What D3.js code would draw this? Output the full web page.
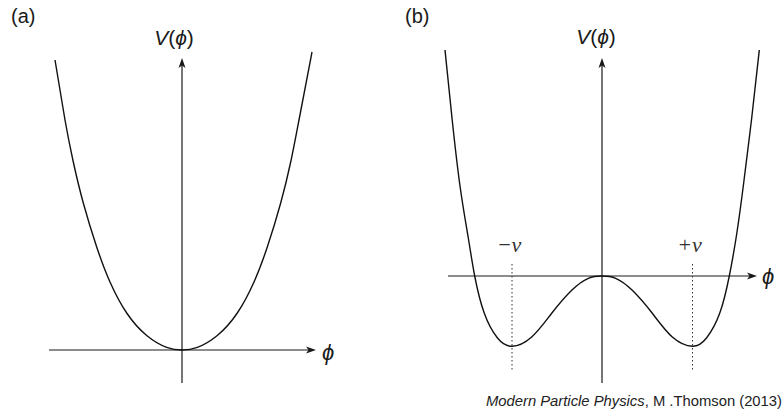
<!DOCTYPE html>
<html>
<head>
<meta charset="utf-8">
<script src="https://cdn.jsdelivr.net/npm/d3@7"></script>
<style>
  body { margin: 0; background: #fff; }
  svg text { font-family: "Liberation Sans", Arial, sans-serif; fill: #1a1a1a; }
</style>
</head>
<body>
<div id="chart"></div>
<script>
// Curve samples (phi, V), arbitrary units
const phiA = [-1.27, -1.17, -1.087, -0.987, -0.853, -0.72, -0.553, -0.353, -0.153, 0,
              0.153, 0.353, 0.553, 0.72, 0.853, 0.987, 1.087, 1.17, 1.3];
const potA = [2.90, 2.30, 1.88, 1.47, 1.03, 0.68, 0.37, 0.145, 0.026, 0,
              0.026, 0.145, 0.37, 0.68, 1.03, 1.47, 1.88, 2.30, 2.98];

const phiB = [-1.57, -1.50, -1.42, -1.337, -1.273, -1.177, -1.045, -0.9, -0.703, -0.503, -0.303, -0.137, 0,
              0.137, 0.303, 0.503, 0.703, 0.905, 1.045, 1.177, 1.273, 1.347, 1.413, 1.497, 1.573];
const potB = [2.26, 1.58, 0.90, 0.38, 0, -0.373, -0.62, -0.703, -0.61, -0.373, -0.143, -0.023, 0,
              -0.023, -0.143, -0.373, -0.61, -0.703, -0.62, -0.373, 0, 0.42, 0.90, 1.58, 2.26];

// vacuum expectation values marked in (b)
const vevs = [-0.9, 0.905];
const vevLabels = ["\u2212v", "+v"];

const panelLabels = ["(a)", "(b)"];

const W = 784, H = 415;
const svg = d3.select("#chart").append("svg")
    .attr("width", W)
    .attr("height", H);

// one unit = 100px in both panels
const panels = [
  { label: panelLabels[0], lx: 11, phi: phiA, pot: potA,
    x: d3.scaleLinear().domain([-1.33, 1.34]).range([49, 316]),
    y: d3.scaleLinear().domain([-0.33, 2.92]).range([383, 58]),
    phiLabel: [322, 360], vLabel: [174, 45] },
  { label: panelLabels[1], lx: 405, phi: phiB, pot: potB,
    x: d3.scaleLinear().domain([-1.54, 1.55]).range([448, 757]),
    y: d3.scaleLinear().domain([-1.07, 2.18]).range([383, 58]),
    phiLabel: [762, 284], vLabel: [596, 44] }
];

function arrow(g, x, y, dir) {
  // small filled arrowhead, dir "right" or "up"
  const L = 10, w = 3.5;
  const p = dir === "right"
    ? `M${x},${y}L${x - L},${y - w}L${x - L + 2.5},${y}L${x - L},${y + w}Z`
    : `M${x},${y}L${x - w},${y + L}L${x},${y + L - 2.5}L${x + w},${y + L}Z`;
  g.append("path").attr("d", p).attr("fill", "#1a1a1a");
}

panels.forEach((p, i) => {
  const g = svg.append("g");
  const [x0, x1] = p.x.range();
  const [yb, yt] = p.y.range();
  const cx = p.x(0), cy = p.y(0);

  // axes
  g.append("line")
      .attr("x1", x0).attr("x2", x1 - 4)
      .attr("y1", cy).attr("y2", cy)
      .attr("stroke", "#1a1a1a").attr("stroke-width", 1.2);
  arrow(g, x1, cy, "right");
  g.append("line")
      .attr("x1", cx).attr("x2", cx)
      .attr("y1", yb).attr("y2", yt + 4)
      .attr("stroke", "#1a1a1a").attr("stroke-width", 1.2);
  arrow(g, cx, yt, "up");

  // dotted vev markers (panel b only)
  if (i === 1) {
    vevs.forEach((v, k) => {
      g.append("line")
          .attr("x1", p.x(v)).attr("x2", p.x(v))
          .attr("y1", p.y(0.12)).attr("y2", p.y(-0.94))
          .attr("stroke", "#333").attr("stroke-width", 1)
          .attr("stroke-dasharray", "1.5,2.5");
      g.append("text")
          .attr("x", p.x(v) - 3).attr("y", p.y(0.24))
          .attr("text-anchor", "middle")
          .style("font-family", "'Liberation Serif', 'DejaVu Serif', serif")
          .style("font-style", "italic")
          .style("font-size", "22px")
          .style("fill", "#333")
          .text(vevLabels[k]);
    });
  }

  // potential curve
  const pts = p.phi.map((d, k) => [d, p.pot[k]]);
  g.append("path")
      .datum(pts)
      .attr("fill", "none")
      .attr("stroke", "#111")
      .attr("stroke-width", 1.4)
      .attr("d", d3.line()
          .x(d => p.x(d[0]))
          .y(d => p.y(d[1]))
          .curve(d3.curveNatural));

  // labels
  svg.append("text")
      .attr("x", p.lx).attr("y", 23)
      .style("font-size", "20px")
      .text(p.label);

  const vl = svg.append("text")
      .attr("x", p.vLabel[0]).attr("y", p.vLabel[1])
      .attr("text-anchor", "middle")
      .style("font-size", "21px");
  vl.append("tspan").style("font-style", "italic").text("V");
  vl.append("tspan").text("(");
  vl.append("tspan").style("font-style", "italic").text("\u03d5");
  vl.append("tspan").text(")");

  svg.append("text")
      .attr("x", p.phiLabel[0]).attr("y", p.phiLabel[1])
      .style("font-size", "22px")
      .style("font-style", "italic")
      .text("\u03d5");
});

// source note
const note = svg.append("text")
    .attr("x", 782).attr("y", 406)
    .attr("text-anchor", "end")
    .style("font-size", "14.8px")
    .style("fill", "#222");
note.append("tspan").style("font-style", "italic").text("Modern Particle Physics");
note.append("tspan").text(", M .Thomson (2013)");
</script>
</body>
</html>
